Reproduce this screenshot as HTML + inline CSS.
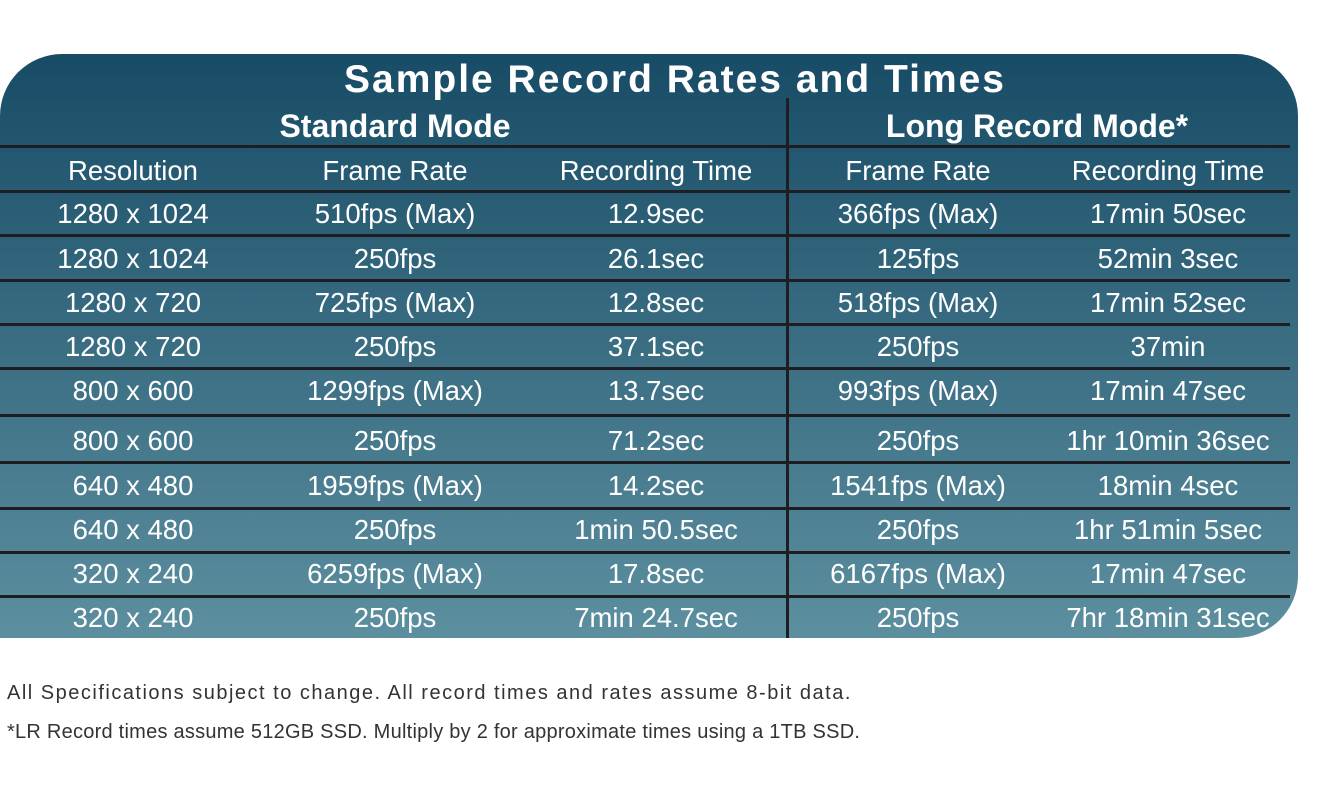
<!DOCTYPE html>
<html><head><meta charset="utf-8"><style>
body{margin:0;width:1336px;height:798px;background:#fff;position:relative;overflow:hidden;font-family:"Liberation Sans",sans-serif}
#panel{position:absolute;left:0;top:54px;width:1298px;height:584px;border-radius:62px 62px 62px 0;background:linear-gradient(#184c66,#5c8f9f)}
.t{position:absolute;color:#fff;text-align:center;transform:translateX(-50%);white-space:nowrap;font-size:27.5px;line-height:30px}
.b{font-weight:bold}
.h{position:absolute;left:0;width:1290px;height:3px;background:#1e1e22}
.v{position:absolute;left:786px;top:98px;width:3px;height:540px;background:#1e1e22}
.f{position:absolute;left:7px;font-size:20px;color:#333;white-space:nowrap}
</style></head><body>
<div id="panel"></div>
<div class="t b" style="left:675px;top:58px;font-size:39px;line-height:44px;letter-spacing:2px">Sample Record Rates and Times</div>
<div class="t b" style="left:395px;top:108px;font-size:32px;line-height:36px">Standard Mode</div>
<div class="t b" style="left:1037px;top:108px;font-size:32px;line-height:36px">Long Record Mode*</div>
<div class="v"></div>
<div id="rows"></div>
<div class="f" style="top:682px;letter-spacing:1.5px">All Specifications subject to change. All record times and rates assume 8-bit data.</div>
<div class="f" style="top:721px;letter-spacing:0.25px">*LR Record times assume 512GB SSD. Multiply by 2 for approximate times using a 1TB SSD.</div>
<script>
const cols=[133,395,656,918,1168];
const header=["Resolution","Frame Rate","Recording Time","Frame Rate","Recording Time"];
const data=[
["1280 x 1024","510fps (Max)","12.9sec","366fps (Max)","17min 50sec"],
["1280 x 1024","250fps","26.1sec","125fps","52min 3sec"],
["1280 x 720","725fps (Max)","12.8sec","518fps (Max)","17min 52sec"],
["1280 x 720","250fps","37.1sec","250fps","37min"],
["800 x 600","1299fps (Max)","13.7sec","993fps (Max)","17min 47sec"],
["800 x 600","250fps","71.2sec","250fps","1hr 10min 36sec"],
["640 x 480","1959fps (Max)","14.2sec","1541fps (Max)","18min 4sec"],
["640 x 480","250fps","1min 50.5sec","250fps","1hr 51min 5sec"],
["320 x 240","6259fps (Max)","17.8sec","6167fps (Max)","17min 47sec"],
["320 x 240","250fps","7min 24.7sec","250fps","7hr 18min 31sec"]];
const centers=[171,214,259,303,347,391,441,486,530,574,618];
const lines=[146,191,235,280,324,368,415,462,508,552,596];
const root=document.getElementById('rows');
lines.forEach((y,i)=>{const d=document.createElement('div');d.className='h';d.style.top=(y-1)+'px';


root.appendChild(d);});
[header,...data].forEach((r,ri)=>{r.forEach((txt,ci)=>{const d=document.createElement('div');d.className='t';d.textContent=txt;
d.style.left=cols[ci]+'px';d.style.top=(centers[ri]-15)+'px';


root.appendChild(d);});});
</script>
</body></html>
